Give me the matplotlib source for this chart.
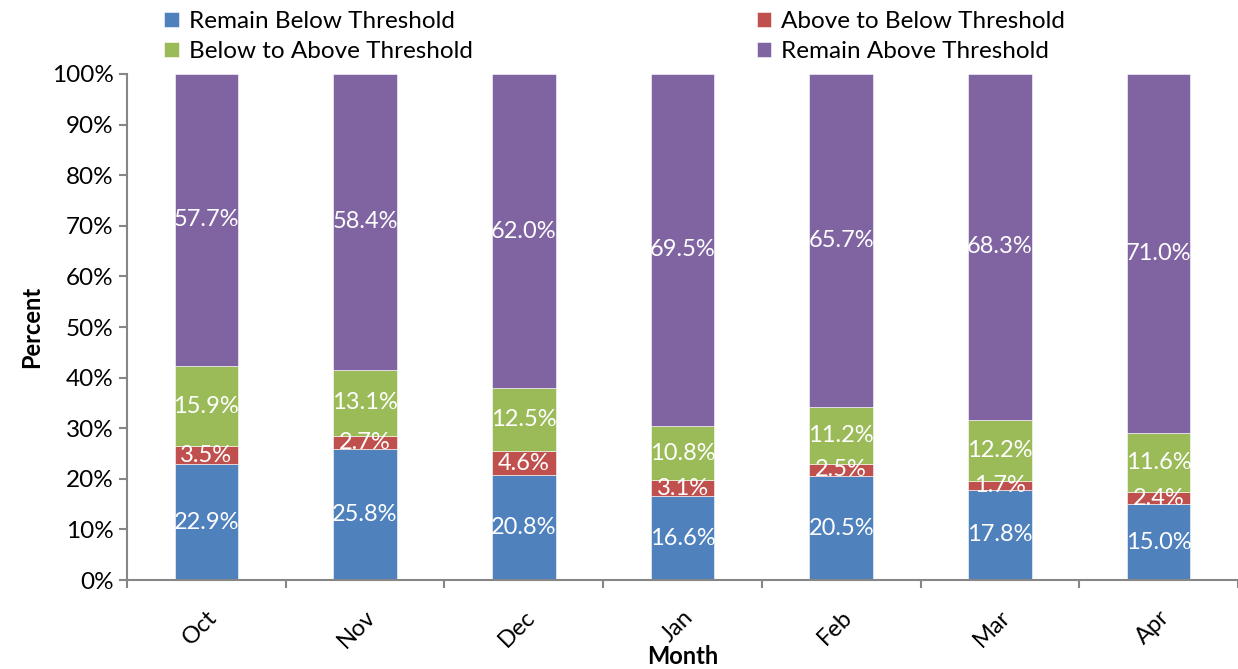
import matplotlib.pyplot as plt
import numpy as np

plt.rcParams['font.family'] = ['Lato', 'DejaVu Sans']

months = ['Oct', 'Nov', 'Dec', 'Jan', 'Feb', 'Mar', 'Apr']
remain_below = [22.9, 25.8, 20.8, 16.6, 20.5, 17.8, 15.0]
above_to_below = [3.5, 2.7, 4.6, 3.1, 2.5, 1.7, 2.4]
below_to_above = [15.9, 13.1, 12.5, 10.8, 11.2, 12.2, 11.6]
remain_above = [57.7, 58.4, 62.0, 69.5, 65.7, 68.3, 71.0]

series = [
    ('Remain Below Threshold', remain_below, '#4F81BD'),
    ('Above to Below Threshold', above_to_below, '#C0504D'),
    ('Below to Above Threshold', below_to_above, '#9BBB59'),
    ('Remain Above Threshold', remain_above, '#8064A2'),
]

# 100% stacked: scale each month so the segments fill the column
totals = np.sum([s[1] for s in series], axis=0)

fig = plt.figure(figsize=(12.38, 6.69), dpi=100)
ax = fig.add_axes([0.1026, 0.133, 0.8974, 0.7564])

x = np.arange(len(months))
bottom = np.zeros(len(months))
handles = {}
for name, vals, color in series:
    vals = np.array(vals)
    h = vals / totals * 100
    bars = ax.bar(x, h, 0.4, bottom=bottom, color=color, label=name,
                  edgecolor='white', linewidth=0.4)
    handles[name] = bars
    for xi, b, hi, v in zip(x, bottom, h, vals):
        ax.text(xi, b + hi / 2, f'{v:.1f}%', ha='center', va='center',
                color='white', fontsize=17)
    bottom += h

ax.set_xlim(-0.5, len(months) - 0.5)
ax.set_ylim(0, 100)
ax.set_yticks(np.arange(0, 101, 10))
ax.set_yticklabels([f'{t}%' for t in range(0, 101, 10)])
ax.set_xticks(x)
ax.set_xticklabels(months, rotation=45, ha='right', rotation_mode='anchor')
ax.set_xticks(np.arange(-0.5, len(months), 1), minor=True)
ax.tick_params(axis='x', which='major', length=0, pad=19, labelsize=17)
ax.tick_params(axis='x', which='minor', length=6, color='#868686', width=1.5)
ax.tick_params(axis='y', length=6, color='#868686', width=1.5, labelsize=17.5)
for side in ['top', 'right']:
    ax.spines[side].set_visible(False)
for side in ['left', 'bottom']:
    ax.spines[side].set_color('#868686')
    ax.spines[side].set_linewidth(1.5)

ax.set_ylabel('Percent', fontsize=17, fontweight='bold', labelpad=6)
ax.set_xlabel('Month', fontsize=17, fontweight='bold', labelpad=-5)

order = ['Remain Below Threshold', 'Below to Above Threshold',
         'Above to Below Threshold', 'Remain Above Threshold']
fig.legend([handles[n] for n in order], order, loc='upper left',
           bbox_to_anchor=(0.115, 1.016), ncol=2, frameon=False, fontsize=17.5,
           handlelength=0.6, handleheight=0.6, handletextpad=0.4,
           columnspacing=11.7, labelspacing=0.36)

fig.savefig('out.png', dpi=100)
